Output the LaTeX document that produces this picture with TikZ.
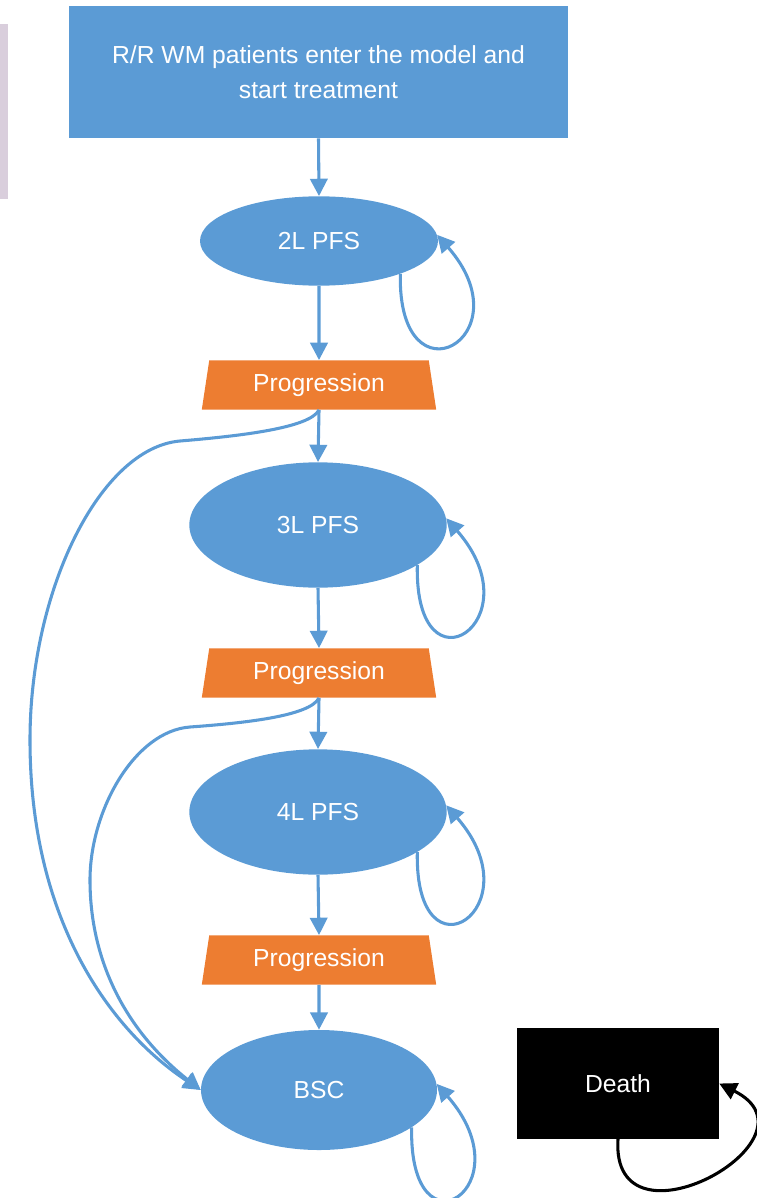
\documentclass[tikz,border=0pt]{standalone}
\usepackage{fontspec}
\setmainfont{Liberation Sans}
\usepackage{tikz}
\usetikzlibrary{arrows.meta,shapes.geometric}
\definecolor{stateblue}{HTML}{5B9BD5}
\definecolor{progorange}{HTML}{ED7D31}
\definecolor{sidelilac}{HTML}{D9CEDC}

\begin{document}
\begin{tikzpicture}[x=0.75pt, y=-0.75pt, every node/.style={font=\fontsize{18.5}{26}\selectfont, text=white, inner sep=0pt}, >={Triangle[length=13pt, width=13pt]},
	state/.style={ellipse, fill=stateblue},
	prog/.style={trapezium, trapezium angle=79, trapezium stretches=true, fill=progorange, minimum width=176pt, minimum height=37pt},
	flow/.style={->, stateblue, line width=2.3pt}]
	\useasboundingbox (0,0) rectangle (756,1198);
	\fill[sidelilac] (0,24) rectangle (8,199);
	% states
	\node[fill=stateblue, minimum width=374pt, minimum height=99pt, align=center] (entry) at (318.5,72) {R/R WM patients enter the model and\\start treatment};
	\node[state, minimum width=178.5pt, minimum height=67pt] (pfs2) at (319,241) {2L PFS};
	\node[prog] (prog1) at (319,385) {Progression};
	\node[state, minimum width=193pt, minimum height=94pt] (pfs3) at (318,525) {3L PFS};
	\node[prog] (prog2) at (319,673) {Progression};
	\node[state, minimum width=193pt, minimum height=94pt] (pfs4) at (318,812) {4L PFS};
	\node[prog] (prog3) at (319,960) {Progression};
	\node[state, minimum width=177pt, minimum height=90pt] (bsc) at (319,1090) {BSC};
	\node[fill=black, minimum width=151.5pt, minimum height=83pt] (death) at (618,1083.5) {Death};
	% transitions
	\foreach \a/\b in {entry/pfs2, pfs2/prog1, prog1/pfs3, pfs3/prog2, prog2/pfs4, pfs4/prog3, prog3/bsc}
		\draw[flow] (\a.south) -- (\b.north);
	\foreach \s in {pfs2, pfs3, pfs4, bsc}
		\draw[flow] (\s.-22) .. controls +(-3,135) and +(90,103) .. (\s.3);
	\draw[flow] (prog1.south) .. controls (310,428) and (240,436) .. (180,441)
		.. controls (100,448) and (30,590) .. (30,740)
		.. controls (30,920) and (110,1030) .. (bsc.west);
	\draw[flow] (prog2.south) .. controls (310,716) and (245,723) .. (190,727)
		.. controls (135,731) and (90,810) .. (90,880)
		.. controls (90,960) and (125,1030) .. (bsc.west);
	\draw[->, black, line width=2.3pt] (death.south) .. controls +(-8,120) and +(110,55) .. (death.east);
\end{tikzpicture}
\end{document}
